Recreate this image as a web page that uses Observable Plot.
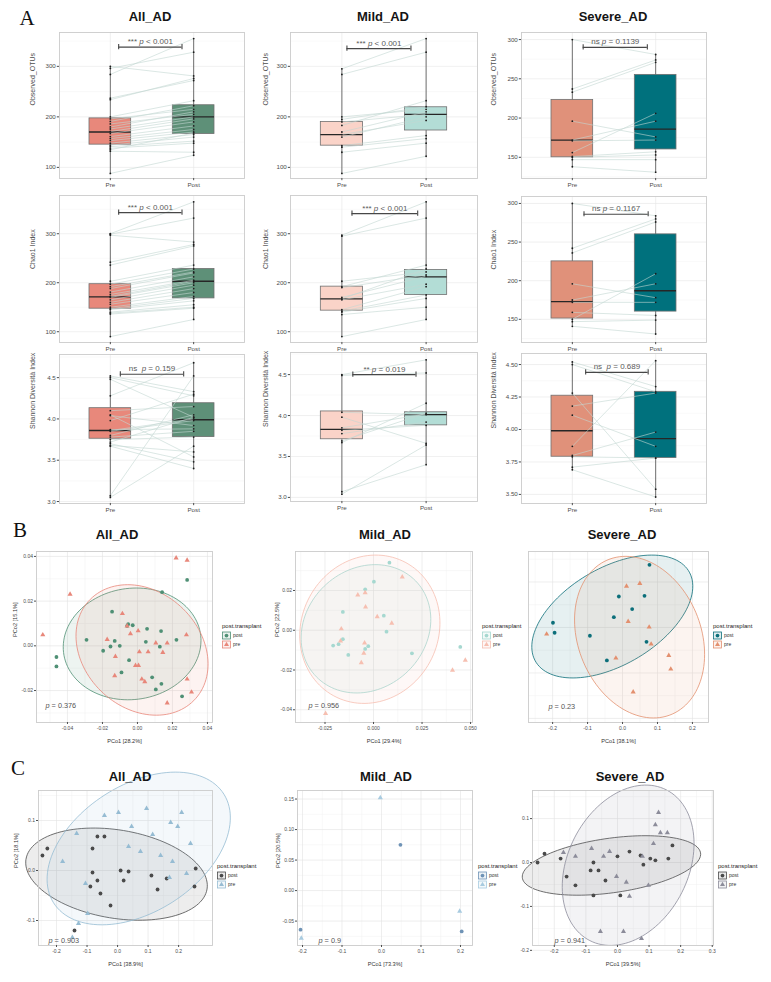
<!DOCTYPE html>
<html><head><meta charset="utf-8">
<script src="https://cdn.jsdelivr.net/npm/d3@7"></script>
<script src="https://cdn.jsdelivr.net/npm/@observablehq/plot@0.6"></script>
<style>
body{margin:0;background:#fff;}
#fig{position:relative;width:771px;height:982px;overflow:hidden;background:#fff;font-family:"Liberation Sans",Arial,sans-serif;}
.ttl{position:absolute;font-weight:bold;font-size:13px;color:#141414;transform:translate(-50%,-50%);white-space:nowrap;}
.let{position:absolute;font-family:"Liberation Serif","DejaVu Serif",serif;font-size:21px;color:#111;transform:translate(-50%,-50%);}
</style></head>
<body><div id="fig"></div>
<script>
// ---------------- DATA ----------------
const timepoints = ["Pre", "Post"];
const cohorts = ["All_AD", "Mild_AD", "Severe_AD"];
const alphaLabels = ["Observed_OTUs", "Chao1 Index", "Shannon Diversità Index"];
const groups = ["post", "pre"];

// Observed OTUs (paired pre/post per subject)
const obsAllPre  = [300, 296, 284, 237, 234, 200, 196, 191, 186, 180, 176, 171, 167, 161, 157, 153, 148, 144, 141, 138, 135, 132, 88];
const obsAllPost = [281, 328, 355, 272, 276, 232, 215, 222, 205, 210, 200, 196, 190, 182, 175, 170, 165, 160, 152, 148, 168, 130, 124];
const obsMildPre  = [295, 284, 200, 195, 190, 183, 170, 165, 160, 143, 140, 130, 88];
const obsMildPost = [355, 328, 215, 220, 205, 232, 210, 193, 200, 163, 157, 148, 122];
const obsSevPre  = [300, 237, 233, 196, 172, 171, 156, 151, 150, 147, 138];
const obsSevPost = [281, 274, 271, 176, 196, 172, 206, 157, 153, 147, 131];
// Chao1
const chaoAllPre  = [300, 299, 297, 242, 236, 203, 197, 192, 188, 181, 176, 172, 170, 165, 160, 156, 150, 147, 145, 140, 138, 136, 90];
const chaoAllPost = [365, 332, 283, 278, 275, 236, 228, 222, 220, 212, 205, 203, 200, 195, 188, 180, 172, 168, 163, 155, 150, 148, 125];
const chaoMildPre  = [297, 295, 203, 192, 190, 170, 167, 165, 145, 142, 140, 135, 90];
const chaoMildPost = [365, 332, 222, 236, 216, 213, 228, 197, 192, 175, 168, 150, 125];
const chaoSevPre  = [300, 242, 236, 196, 175, 172, 159, 150, 147, 141];
const chaoSevPost = [284, 280, 276, 178, 196, 172, 155, 209, 149, 131];
// Shannon
const shanAllPre  = [4.52, 4.50, 4.48, 4.28, 4.10, 4.05, 4.04, 3.98, 3.87, 3.86, 3.85, 3.80, 3.78, 3.75, 3.72, 3.70, 3.68, 3.67, 3.07, 3.05];
const shanAllPost = [4.33, 4.28, 4.02, 4.68, 4.15, 3.54, 3.92, 4.30, 3.88, 4.00, 3.98, 4.05, 3.85, 3.78, 4.02, 3.48, 3.60, 3.40, 4.52, 3.67];
const shanMildPre  = [4.50, 4.49, 4.04, 3.98, 3.85, 3.82, 3.78, 3.69, 3.67, 3.07, 3.04];
const shanMildPost = [4.68, 4.52, 4.01, 3.66, 4.02, 3.88, 3.92, 4.03, 4.15, 3.40, 3.64];
const shanSevPre  = [4.52, 4.50, 4.28, 4.18, 4.11, 3.87, 3.80, 3.79, 3.71, 3.69];
const shanSevPost = [4.33, 4.29, 3.54, 4.28, 3.87, 4.53, 3.98, 3.78, 3.78, 3.48];

// Box statistics: [min, Q1, median, Q3, max]
const boxObsAll  = [[88, 145, 170, 197, 300], [124, 166, 200, 223, 355]];
const boxObsMild = [[88, 143, 165, 190, 295], [122, 173, 205, 219, 355]];
const boxObsSev  = [[138, 150, 172, 223, 300], [131, 160, 186, 255, 281]];
const boxChaoAll  = [[90, 147, 171, 197, 300], [125, 168, 203, 228, 365]];
const boxChaoMild = [[90, 143, 167, 192, 297], [125, 175, 212, 226, 365]];
const boxChaoSev  = [[141, 151, 173, 225, 300], [131, 160, 187, 260, 284]];
const boxShanAll  = [[3.05, 3.76, 3.86, 4.13, 4.52], [3.40, 3.78, 3.99, 4.19, 4.68]];
const boxShanMild = [[3.04, 3.71, 3.83, 4.05, 4.50], [3.40, 3.88, 4.01, 4.04, 4.68]];
const boxShanSev  = [[3.69, 3.79, 3.99, 4.26, 4.52], [3.48, 3.78, 3.93, 4.29, 4.53]];

// Wilcoxon annotations
const sigLabels = [
  ["*** p < 0.001", "*** p < 0.001", "ns p = 0.1139"],
  ["*** p < 0.001", "*** p < 0.001", "ns p = 0.1167"],
  ["ns  p = 0.159", "** p = 0.019", "ns  p = 0.689"]
];
const sigLevels = [[338, 335, 290], [343, 341, 286], [4.54, 4.50, 4.44]];

// Tick values
const ticksOTU = [100, 200, 300];
const ticksOTUsev = [150, 200, 250, 300];
const ticksShan = [3.0, 3.5, 4.0, 4.5];
const ticksShanSev = [3.50, 3.75, 4.00, 4.25, 4.50];

// PCoA (panel B): [PCo1, PCo2]
const bAllPost = [[-0.0463,-0.0050],[-0.0463,-0.0092],[-0.0291,0.0027],[-0.0196,-0.0022],[-0.0154,-0.0003],[-0.0145,0.0153],[-0.0130,0.0022],[-0.0101,0.0000],[-0.0059,0.0089],[-0.0053,0.0097],[-0.0027,0.0092],[-0.0048,-0.0064],[-0.0091,-0.0119],[0.0055,0.0076],[0.0048,0.0018],[0.0135,0.0066],[0.0128,-0.0004],[0.0084,-0.0141],[0.0105,-0.0195],[0.0137,-0.0170],[0.0141,0.0240],[0.0223,0.0027],[0.0255,-0.0226],[0.0284,0.0295]];
const bAllPre = [[-0.0541,0.0049],[-0.0385,0.0231],[-0.0086,0.0144],[-0.0059,0.0089],[-0.0040,0.0054],[0.0004,0.0067],[-0.0173,0.0028],[-0.0126,-0.0048],[0.0011,-0.0027],[-0.0011,-0.0088],[0.0006,-0.0088],[0.0025,-0.0149],[0.0042,-0.0161],[0.0061,-0.0027],[0.0105,0.0013],[0.0145,-0.0030],[0.0170,0.0012],[-0.0130,-0.0134],[0.0170,-0.0256],[0.0221,0.0393],[0.0284,0.0383],[0.0280,0.0049],[0.0284,-0.0149],[0.0309,-0.0207]];
const bMildPost = [[0.0082,0.0340],[0.0002,0.0244],[-0.0043,0.0206],[-0.0158,0.0092],[0.0053,0.0073],[0.0067,-0.0007],[-0.0158,-0.0045],[-0.0180,-0.0070],[-0.0208,-0.0077],[-0.0130,-0.0124],[-0.0043,-0.0094],[-0.0027,-0.0080],[0.0198,-0.0116],[0.0447,-0.0084]];
const bMildPre = [[0.0148,0.0268],[-0.0081,0.0177],[-0.0043,0.0189],[-0.0041,0.0117],[0.0019,0.0068],[0.0094,0.0035],[-0.0166,0.0007],[-0.0170,-0.0054],[-0.0046,-0.0064],[-0.0050,-0.0116],[-0.0063,-0.0163],[-0.0247,-0.0419],[0.0407,-0.0201],[0.0473,-0.0151]];
const bSevPost = [[0.0771,0.1378],[-0.0105,0.0681],[0.0629,0.0696],[0.0276,0.0403],[-0.0248,0.0227],[-0.1990,0.0103],[-0.1943,-0.0117],[-0.0933,-0.0183],[0.0686,-0.0315],[-0.0448,-0.0725]];
const bSevPre = [[0.0114,0.0908],[0.0495,0.0967],[0.0162,0.0132],[0.0762,0.0007],[-0.2171,-0.0147],[0.0819,-0.0367],[-0.0190,-0.0674],[0.1324,-0.0615],[0.1381,-0.0916],[0.0305,-0.1421]];
// PCoA (panel C)
const cAllPost = [[-0.230,0.044],[-0.246,0.030],[-0.066,0.068],[-0.043,0.068],[-0.082,0.044],[-0.082,-0.004],[-0.066,-0.020],[-0.089,-0.032],[-0.056,-0.046],[-0.141,-0.120],[0.010,0.000],[0.036,-0.002],[0.111,-0.010],[0.131,-0.038],[0.161,-0.016],[0.256,0.004],[0.252,-0.032],[-0.023,-0.070],[0.020,-0.020]];
const cAllPre = [[-0.180,0.018],[-0.105,-0.026],[-0.134,0.074],[-0.128,-0.106],[-0.098,-0.086],[-0.043,0.110],[0.003,0.116],[0.046,0.088],[0.095,0.124],[0.115,0.072],[0.141,0.030],[0.174,0.096],[0.197,0.088],[0.210,0.116],[0.180,0.018],[0.170,-0.014],[0.226,-0.006],[0.239,0.054],[-0.148,-0.134],[0.075,0.038],[0.036,0.048]];
const cMildPost = [[0.048,0.075],[-0.205,-0.064],[0.203,-0.067]];
const cMildPre = [[-0.003,0.152],[-0.203,-0.078],[0.198,-0.034]];
const cSevPost = [[-0.253,0.000],[-0.231,0.020],[-0.180,0.009],[-0.161,-0.032],[-0.133,-0.052],[-0.085,-0.018],[-0.076,0.000],[-0.060,-0.018],[-0.038,-0.041],[0.000,0.014],[0.009,-0.075],[0.038,0.025],[0.073,0.016],[0.082,-0.005],[0.104,0.009],[0.120,0.005],[0.161,0.009],[0.174,0.039],[-0.076,-0.075]];
const cSevPre = [[-0.171,0.023],[-0.133,0.014],[-0.082,0.032],[-0.044,0.014],[-0.025,0.025],[-0.003,-0.032],[0.028,-0.045],[0.038,-0.077],[0.079,0.014],[0.098,-0.052],[0.114,0.043],[0.120,0.086],[0.130,0.114],[0.158,0.068],[-0.054,-0.157],[0.019,-0.157],[0.076,-0.173],[0.136,0.068]];

const pcoaX = ["PCo1 [28.2%]", "PCo1 [29.4%]", "PCo1 [38.1%]", "PCo1 [38.9%]", "PCo1 [73.3%]", "PCo1 [39.5%]"];
const pcoaY = ["PCo2 [15.1%]", "PCo2 [22.5%]", "", "PCo2 [18.1%]", "PCo2 [20.5%]", ""];
const pcoaP = ["p = 0.376", "p = 0.956", "p = 0.23", "p = 0.903", "p = 0.9", "p = 0.941"];

// ---------------- STYLE ----------------
const FONT = '"Liberation Sans", Arial, sans-serif';
const ELLIPSE_LEVEL = 0.92;
const boxFill = [["#E8887B", "#5E9078"], ["#FAD3C8", "#B3DDD6"], ["#E0917A", "#00717D"]];
const bCols = [["#4F9075", "#E8877A"], ["#A6D8D0", "#F6BFB1"], ["#0C6F7A", "#E3906F"]];
const cCols = [["#4A4A4A", "#96BCD3"], ["#6F93B6", "#A8CBE0"], ["#4A4A4A", "#8C8C9A"]];

const fig = document.getElementById("fig");
const NS = "http://www.w3.org/2000/svg";

function italicP(svg) {
  svg.querySelectorAll("text").forEach(t => {
    if (t.querySelector("tspan")) return;
    const s = t.textContent;
    const m = s.match(/^(.*\s)?p( [<=] .+)$/);
    if (!m) return;
    t.textContent = "";
    t.style.whiteSpace = "pre";
    if (m[1]) t.appendChild(document.createTextNode(m[1]));
    const ts = document.createElementNS(NS, "tspan");
    ts.setAttribute("font-style", "italic");
    ts.textContent = "p";
    t.appendChild(ts);
    t.appendChild(document.createTextNode(m[2]));
  });
}
function put(node, left, top) {
  node.style.position = "absolute";
  node.style.left = left + "px";
  node.style.top = top + "px";
  node.style.overflow = "visible";
  node.style.background = "transparent";
  fig.appendChild(node);
}
function minorTicks(ticks, dom) {
  const step = ticks[1] - ticks[0], lo = Math.min(...dom), hi = Math.max(...dom), out = [];
  for (let k = -30; k < 60; k++) { const v = ticks[0] + (k + 0.5) * step; if (v > lo && v < hi) out.push(v); }
  return out;
}
// robust t-based covariance (as MASS::cov.trob, nu = 5)
function covTrob(pts, nu = 5) {
  const n = pts.length, p = 2;
  let loc = [d3.mean(pts, q => q[0]), d3.mean(pts, q => q[1])];
  let w = pts.map(() => 1), X = [];
  for (let it = 0; it < 50; it++) {
    const w0 = w.slice();
    X = pts.map(q => [q[0] - loc[0], q[1] - loc[1]]);
    const sw = d3.sum(w);
    let a = 0, b = 0, c = 0;
    X.forEach((x, i) => { a += w[i] * x[0] * x[0]; b += w[i] * x[0] * x[1]; c += w[i] * x[1] * x[1]; });
    a /= sw; b /= sw; c /= sw;
    const det = a * c - b * b;
    const Q = X.map(x => (c * x[0] * x[0] - 2 * b * x[0] * x[1] + a * x[1] * x[1]) / det);
    w = Q.map(q => (nu + p) / (nu + q));
    const s = d3.sum(w);
    loc = [d3.sum(pts, (q, i) => w[i] * q[0]) / s, d3.sum(pts, (q, i) => w[i] * q[1]) / s];
    if (w.every((v, i) => Math.abs(v - w0[i]) < 1e-4)) break;
  }
  let a = 0, b = 0, c = 0;
  X.forEach((x, i) => { a += w[i] * x[0] * x[0]; b += w[i] * x[0] * x[1]; c += w[i] * x[1] * x[1]; });
  return {loc, cov: [a / n, b / n, c / n]};
}
function ellipse(pts, level = ELLIPSE_LEVEL, seg = 120) {
  const n = pts.length;
  const {loc, cov: [sxx, sxy, syy]} = covTrob(pts);
  const tr = sxx + syy, det = sxx * syy - sxy * sxy, disc = Math.sqrt(Math.max(0, tr * tr / 4 - det));
  const l1 = tr / 2 + disc, l2 = Math.max(0, tr / 2 - disc);
  const th = Math.abs(sxy) < 1e-15 ? (sxx >= syy ? 0 : Math.PI / 2) : Math.atan2(l1 - sxx, sxy);
  const m = n - 1, F = (m / 2) * (Math.pow(1 - level, -2 / m) - 1), r = Math.sqrt(2 * F);
  return d3.range(seg).map(i => {
    const t = 2 * Math.PI * i / seg, a = r * Math.sqrt(l1) * Math.cos(t), b = r * Math.sqrt(l2) * Math.sin(t);
    return [loc[0] + a * Math.cos(th) - b * Math.sin(th), loc[1] + a * Math.sin(th) + b * Math.cos(th)];
  });
}
function label(text, cx, cy, cls) {
  const d = document.createElement("div");
  d.className = cls; d.textContent = text;
  d.style.left = cx + "px"; d.style.top = cy + "px";
  fig.appendChild(d);
}

// ---------------- BOX PANELS ----------------
function boxPanel(c) {
  const [fx0, fy0, fx1, fy1] = c.frame;
  const ML = 44, MR = 6, MT = 6, MB = 16;
  const pairs = c.pre.map((v, i) => ({pre: v, post: c.post[i]}));
  const pts = [...c.pre.map(v => ({g: 1, v})), ...c.post.map(v => ({g: 2, v}))];
  const stats = c.box.map((s, i) => ({g: i + 1, s}));
  const sig = {y: c.sigY, x1: c.sigX[0], x2: c.sigX[1], label: c.sigLabel};
  const marks = [
    Plot.gridY(minorTicks(c.yticks, c.ydom), {stroke: "#f3f3f3", strokeOpacity: 1, strokeWidth: 0.5}),
    Plot.gridY(c.yticks, {stroke: "#e6e6e6", strokeOpacity: 1, strokeWidth: 0.6}),
    Plot.gridX([1, 2], {stroke: "#e6e6e6", strokeOpacity: 1, strokeWidth: 0.6}),
    Plot.ruleX(stats, {x: "g", y1: d => d.s[0], y2: d => d.s[4], stroke: "#3a3a3a", strokeWidth: 0.7})
  ];
  stats.forEach((st, i) => {
    marks.push(Plot.rect([st], {x1: d => d.g - 0.25, x2: d => d.g + 0.25, y1: d => d.s[1], y2: d => d.s[3],
      fill: c.fills[i], stroke: "#707070", strokeWidth: 0.8}));
  });
  marks.push(
    Plot.ruleY(stats, {y: d => d.s[2], x1: d => d.g - 0.25, x2: d => d.g + 0.25, stroke: "#262626", strokeWidth: 1.3}),
    Plot.link(pairs, {x1: () => 1, x2: () => 2, y1: "pre", y2: "post", stroke: "#c2d6d2", strokeWidth: 0.6}),
    Plot.dot(pts, {x: "g", y: "v", r: 0.9, fill: "#1c1c1c"}),
    Plot.ruleY([sig], {y: "y", x1: "x1", x2: "x2", stroke: "#474747", strokeWidth: 1.1}),
    Plot.ruleX([sig.x1, sig.x2], {x: d => d, y1: () => sig.y, y2: () => sig.y, insetTop: -2.6, insetBottom: -2.6, stroke: "#474747", strokeWidth: 1.1}),
    Plot.text([sig], {x: d => (d.x1 + d.x2) / 2, y: "y", text: "label", dy: -3, lineAnchor: "bottom", fontSize: 8, fill: "#5a5a5a"}),
    Plot.frame({stroke: "#cccccc", strokeWidth: 0.9}),
    Plot.axisY(c.yticks, {tickFormat: c.yfmt, tickSize: 2.2, tickPadding: 1.5, fontSize: 6.2, color: "#4d4d4d", label: null}),
    Plot.axisX([1, 2], {tickFormat: d => timepoints[d - 1], tickSize: 2.2, tickPadding: 1.5, fontSize: 6.2, color: "#4d4d4d", label: null}),
    Plot.text([c.ylabel], {frameAnchor: "left", dx: c.ylabelDx, rotate: -90, fontSize: 7, fill: "#4d4d4d"})
  );
  const svg = Plot.plot({
    width: fx1 - fx0 + ML + MR, height: fy1 - fy0 + MT + MB,
    marginLeft: ML, marginRight: MR, marginTop: MT, marginBottom: MB,
    x: {type: "linear", domain: [0.39, 2.61]}, y: {type: "linear", domain: c.ydom},
    style: {fontFamily: FONT, background: "transparent"},
    marks
  });
  italicP(svg);
  put(svg, fx0 - ML, fy0 - MT);
}

const aCols = [[59, 244], [290, 477], [521, 706]];
const aDatasets = [
  [[obsAllPre, obsAllPost, boxObsAll], [obsMildPre, obsMildPost, boxObsMild], [obsSevPre, obsSevPost, boxObsSev]],
  [[chaoAllPre, chaoAllPost, boxChaoAll], [chaoMildPre, chaoMildPost, boxChaoMild], [chaoSevPre, chaoSevPost, boxChaoSev]],
  [[shanAllPre, shanAllPost, boxShanAll], [shanMildPre, shanMildPost, boxShanMild], [shanSevPre, shanSevPost, boxShanSev]]
];
const aFrameY = [[[32, 178], [32, 178], [32, 178]], [[195, 342], [195, 342], [196, 342]], [[354, 503], [352, 501], [353, 503]]];
const aDomains = [[[78, 367], [78, 367], [123, 309]], [[78, 378], [78, 378], [120, 309]], [[2.976, 4.78], [2.95, 4.77], [3.43, 4.585]]];
const aTicks = [[ticksOTU, ticksOTU, ticksOTUsev], [ticksOTU, ticksOTU, ticksOTUsev], [ticksShan, ticksShan, ticksShanSev]];
const aSigX = [[[1.10, 1.86], [1.06, 1.82], [1.13, 1.90]], [[1.10, 1.86], [1.12, 1.90], [1.14, 1.91]], [[1.12, 1.88], [1.13, 1.88], [1.16, 1.91]]];
const aYlabDx = [-27, -25, -28];
for (let r = 0; r < 3; r++) for (let k = 0; k < 3; k++) {
  const [pre, post, box] = aDatasets[r][k];
  boxPanel({
    frame: [aCols[k][0], aFrameY[r][k][0], aCols[k][1], aFrameY[r][k][1]],
    ydom: aDomains[r][k], yticks: aTicks[r][k],
    yfmt: r < 2 ? (d => String(d)) : (k === 2 ? (d => d.toFixed(2)) : (d => d.toFixed(1))),
    pre, post, box, fills: boxFill[k],
    sigY: sigLevels[r][k], sigX: aSigX[r][k], sigLabel: sigLabels[r][k],
    ylabel: alphaLabels[r], ylabelDx: aYlabDx[k]
  });
}

// ---------------- PCoA PANELS ----------------
function pcoaPanel(c) {
  const [fx0, fy0, fx1, fy1] = c.frame;
  const ML = 30, MR = 6, MT = 6, MB = 26;
  const marks = [
    Plot.gridX(minorTicks(c.xticks, c.xdom), {stroke: "#f1f1f1", strokeOpacity: 1, strokeWidth: 0.5}),
    Plot.gridY(minorTicks(c.yticks, c.ydom), {stroke: "#f1f1f1", strokeOpacity: 1, strokeWidth: 0.5}),
    Plot.gridX(c.xticks, {stroke: "#e2e2e2", strokeOpacity: 1, strokeWidth: 0.6}),
    Plot.gridY(c.yticks, {stroke: "#e2e2e2", strokeOpacity: 1, strokeWidth: 0.6})
  ];
  const sets = [c.post, c.pre];
  sets.forEach((s, i) => {
    if (s.length <= 3) return; // too few points for an ellipse
    marks.push(Plot.line(ellipse(s), {x: d => d[0], y: d => d[1], curve: "linear-closed",
      fill: c.cols[i], fillOpacity: 0.1, stroke: c.cols[i], strokeWidth: 0.8}));
  });
  sets.forEach((s, i) => {
    marks.push(Plot.dot(s, {x: d => d[0], y: d => d[1], r: 1.9, symbol: i === 0 ? "circle" : "triangle", fill: c.cols[i], stroke: "none"}));
  });
  marks.push(
    Plot.frame({stroke: "#cccccc", strokeWidth: 0.9}),
    Plot.axisX(c.xticks, {tickFormat: c.xfmt, tickSize: 2, tickPadding: 1.5, fontSize: 5, color: "#4d4d4d", label: null}),
    Plot.text([c.xlabel], {frameAnchor: "bottom", dy: c.xlabDy, lineAnchor: "middle", fontSize: 5.6, fill: "#333"}),
    Plot.text([c.pLabel], {frameAnchor: "bottom-left", dx: c.pDx, dy: c.pDy, textAnchor: "start", lineAnchor: "bottom", fontSize: 7.3, fill: "#555"})
  );
  if (c.showY) marks.push(
    Plot.axisY(c.yticks, {tickFormat: c.yfmt, tickSize: 2, tickPadding: 1.5, fontSize: 5, color: "#4d4d4d", label: null})
  );
  if (c.showY && c.ylabel) marks.push(
    Plot.text([c.ylabel], {frameAnchor: "left", dx: c.ylabDx, rotate: -90, fontSize: 5.6, fill: "#333"})
  );
  const ycfg = {type: "linear", domain: c.ydom};
  if (!c.showY) ycfg.axis = null;
  const svg = Plot.plot({
    width: fx1 - fx0 + ML + MR, height: fy1 - fy0 + MT + MB,
    marginLeft: ML, marginRight: MR, marginTop: MT, marginBottom: MB,
    x: {type: "linear", domain: c.xdom}, y: ycfg,
    style: {fontFamily: FONT, background: "transparent"},
    marks
  });
  italicP(svg);
  put(svg, fx0 - ML, fy0 - MT);
}
function legend(left, baseline, cols) {
  const svg = d3.create("svg").attr("width", 60).attr("height", 30).attr("font-family", FONT);
  svg.append("text").attr("x", 0).attr("y", 6).attr("font-size", 6).attr("fill", "#222").text("post.transplant");
  groups.forEach((g, i) => {
    const y = 10 + i * 9;
    svg.append("rect").attr("x", 0.5).attr("y", y).attr("width", 8).attr("height", 7)
      .attr("fill", cols[i]).attr("fill-opacity", 0.12).attr("stroke", cols[i]).attr("stroke-width", 0.8);
    svg.append("path").attr("transform", `translate(4.5,${y + 3.6})`)
      .attr("d", d3.symbol(i === 0 ? d3.symbolCircle : d3.symbolTriangle, 11)()).attr("fill", cols[i]);
    svg.append("text").attr("x", 11).attr("y", y + 5.3).attr("font-size", 5).attr("fill", "#333").text(g);
  });
  put(svg.node(), left, baseline - 6);
}

const f2 = d => (Math.abs(d) < 1e-9 ? 0 : d).toFixed(2);
const f3 = d => (Math.abs(d) < 1e-9 ? 0 : d).toFixed(3);
const f1 = d => (Math.abs(d) < 1e-9 ? 0 : d).toFixed(1);
const pcoaCfg = [
  {frame: [36, 551, 212, 722], xdom: [-0.0577, 0.0429], ydom: [-0.0343, 0.0422], xticks: [-0.04, -0.02, 0, 0.02, 0.04], yticks: [-0.02, 0, 0.02, 0.04], xfmt: f2, yfmt: f2,
   post: bAllPost, pre: bAllPre, cols: bCols[0], showY: true, ylabDx: -21, xlabDy: 19, pDx: 9, pDy: -15},
  {frame: [295, 551, 472, 722], xdom: [-0.0402, 0.051], ydom: [-0.0464, 0.0396], xticks: [-0.025, 0, 0.025, 0.05], yticks: [-0.04, -0.02, 0, 0.02], xfmt: f3, yfmt: f2,
   post: bMildPost, pre: bMildPre, cols: bCols[1], showY: true, ylabDx: -18, xlabDy: 19, pDx: 13, pDy: -15},
  {frame: [528, 551, 708, 722], xdom: [-0.269, 0.246], ydom: [-0.209, 0.167], xticks: [-0.2, -0.1, 0, 0.1, 0.2], yticks: [-0.2, -0.1, 0, 0.1], xfmt: f1, yfmt: f1,
   post: bSevPost, pre: bSevPre, cols: bCols[2], showY: false, ylabDx: -18, xlabDy: 19, pDx: 20, pDy: -14},
  {frame: [38, 790, 212, 945], xdom: [-0.259, 0.311], ydom: [-0.15, 0.16], xticks: [-0.2, -0.1, 0, 0.1, 0.2], yticks: [-0.1, 0, 0.1], xfmt: f1, yfmt: f1,
   post: cAllPost, pre: cAllPre, cols: cCols[0], showY: true, ylabDx: -22, xlabDy: 19, pDx: 10, pDy: -3},
  {frame: [297, 790, 472, 945], xdom: [-0.2127, 0.2304], ydom: [-0.09, 0.164], xticks: [-0.2, -0.1, 0, 0.1, 0.2], yticks: [-0.05, 0, 0.05, 0.1, 0.15], xfmt: f1, yfmt: f2,
   post: cMildPost, pre: cMildPre, cols: cCols[1], showY: true, ylabDx: -19, xlabDy: 19, pDx: 21, pDy: -3},
  {frame: [532, 790, 713, 945], xdom: [-0.269, 0.304], ydom: [-0.189, 0.164], xticks: [-0.2, -0.1, 0, 0.1, 0.2, 0.3], yticks: [-0.2, -0.1, 0, 0.1], xfmt: f1, yfmt: f1,
   post: cSevPost, pre: cSevPre, cols: cCols[2], showY: true, ylabDx: -20, xlabDy: 19, pDx: 22, pDy: -3}
];
pcoaCfg.forEach((c, i) => {
  c.xlabel = pcoaX[i]; c.ylabel = pcoaY[i]; c.pLabel = pcoaP[i];
  pcoaPanel(c);
});
legend(222, 628, bCols[0]);
legend(482, 628, bCols[1]);
legend(713, 628, bCols[2]);
legend(217, 868, cCols[0]);
legend(478, 868, cCols[1]);
legend(718, 868, cCols[2]);

// ---------------- TITLES ----------------
label("A", 27, 18, "let");
label("B", 20, 530, "let");
label("C", 18, 768, "let");
[[150, 16], [383, 16], [613, 16]].forEach(([x, y], i) => label(cohorts[i], x, y, "ttl"));
[[117, 534], [385, 534], [622, 534]].forEach(([x, y], i) => label(cohorts[i], x, y, "ttl"));
[[130, 776], [386, 776], [630, 776]].forEach(([x, y], i) => label(cohorts[i], x, y, "ttl"));
</script>
</body></html>
